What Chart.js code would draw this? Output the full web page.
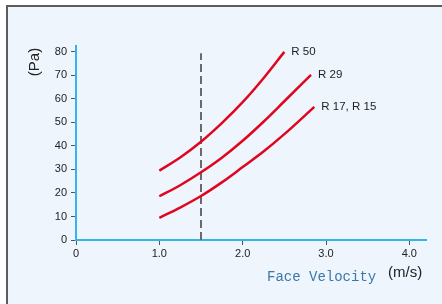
<!DOCTYPE html>
<html>
<head>
<meta charset="utf-8">
<script src="https://cdn.jsdelivr.net/npm/chart.js@4/dist/chart.umd.min.js"></script>
<style>
  html, body { margin: 0; padding: 0; background: #ffffff; }
  #wrap { width: 442px; height: 304px; position: relative; }
</style>
</head>
<body>
<div id="wrap"><canvas id="c" width="442" height="304"></canvas></div>
<script>
// ---- data ----
const seriesNames = ['R 50', 'R 29', 'R 17, R 15'];
const velocityR50 = [1.0, 1.25, 1.5, 1.75, 2.0, 2.25, 2.5];
const pressureR50 = [29.5, 35.1, 41.8, 49.7, 58.6, 68.8, 80.0];
const velocityR29 = [1.0, 1.25, 1.5, 1.75, 2.0, 2.25, 2.5, 2.82];
const pressureR29 = [18.6, 23.3, 28.8, 35.0, 42.2, 50.3, 59.0, 70.2];
const velocityR17 = [1.0, 1.25, 1.5, 1.75, 2.0, 2.25, 2.5, 2.86];
const pressureR17 = [9.4, 13.8, 18.7, 24.5, 31.0, 37.6, 45.0, 56.6];
const designVelocity = [1.5, 1.5];
const designPressure = [0, 79.4];
const xTickValues = [0, 1, 2, 3, 4];
const xTickLabels = ['0', '1.0', '2.0', '3.0', '4.0'];
const yTickValues = [0, 10, 20, 30, 40, 50, 60, 70, 80];
const xAxisTitle = 'Face Velocity';
const xAxisUnit = '(m/s)';
const yAxisTitle = '(Pa)';

const pts = (xs, ys) => xs.map((x, i) => ({ x: x, y: ys[i] }));

const RED = '#e0061f';

const panelPlugin = {
  id: 'panel',
  beforeDraw(chart) {
    const ctx = chart.ctx;
    ctx.save();
    ctx.fillStyle = '#ffffff';
    ctx.fillRect(0, 0, chart.width, chart.height);
    ctx.fillStyle = '#eef5fc';
    ctx.fillRect(7, 6, chart.width - 7, chart.height - 6);
    ctx.strokeStyle = '#5c5c5c';
    ctx.lineWidth = 2;
    ctx.beginPath();
    ctx.moveTo(7, chart.height);
    ctx.lineTo(7, 6);
    ctx.lineTo(chart.width, 6);
    ctx.stroke();
    ctx.restore();
  }
};

const labelsPlugin = {
  id: 'labels',
  afterDatasetsDraw(chart) {
    const ctx = chart.ctx;
    const xs = chart.scales.x, ys = chart.scales.y;
    ctx.save();
    // curve end labels
    ctx.font = '11.5px "Liberation Sans", Arial, sans-serif';
    ctx.fillStyle = '#222222';
    ctx.textAlign = 'left';
    ctx.textBaseline = 'middle';
    [0, 1, 2].forEach(i => {
      const d = chart.data.datasets[i].data;
      const last = d[d.length - 1];
      ctx.fillText(seriesNames[i], xs.getPixelForValue(last.x) + 7, ys.getPixelForValue(last.y));
    });
    // axis titles
    ctx.font = '14px "Liberation Mono", "Courier New", monospace';
    ctx.fillStyle = '#3a78a8';
    ctx.textBaseline = 'alphabetic';
    ctx.fillText(xAxisTitle, 267, 281);
    ctx.font = '15px "Liberation Sans", Arial, sans-serif';
    ctx.fillStyle = '#222222';
    ctx.fillText(xAxisUnit, 388, 277);
    ctx.translate(35, 62);
    ctx.rotate(-Math.PI / 2);
    ctx.textAlign = 'center';
    ctx.textBaseline = 'middle';
    ctx.fillText(yAxisTitle, 0, 0);
    ctx.restore();
  }
};

const lineDs = (name, data) => ({
  label: name,
  data: data,
  showLine: true,
  borderColor: RED,
  borderWidth: 2.5,
  pointRadius: 0,
  cubicInterpolationMode: 'monotone',
  fill: false
});

new Chart(document.getElementById('c'), {
  type: 'scatter',
  data: {
    datasets: [
      lineDs(seriesNames[0], pts(velocityR50, pressureR50)),
      lineDs(seriesNames[1], pts(velocityR29, pressureR29)),
      lineDs(seriesNames[2], pts(velocityR17, pressureR17)),
      {
        label: 'design',
        data: pts(designVelocity, designPressure),
        showLine: true,
        borderColor: '#6a6a6a',
        borderWidth: 2,
        borderDash: [8, 4],
        pointRadius: 0,
        fill: false
      }
    ]
  },
  options: {
    responsive: false,
    animation: false,
    devicePixelRatio: 1,
    layout: { padding: { left: 0, top: 46, right: 16, bottom: 0 } },
    plugins: { legend: { display: false }, tooltip: { enabled: false } },
    scales: {
      x: {
        type: 'linear',
        min: 0,
        max: 4.2,
        afterFit: s => { s.height = 64; },
        afterBuildTicks: s => { s.ticks = xTickValues.map(v => ({ value: v })); },
        ticks: {
          includeBounds: false,
          autoSkip: false,
          maxRotation: 0,
          padding: 2,
          color: '#222222',
          font: { family: '"Liberation Sans", Arial, sans-serif', size: 11 },
          callback: (v) => xTickLabels[xTickValues.indexOf(v)]
        },
        grid: { drawOnChartArea: false, drawTicks: true, tickLength: 5, color: '#555555', lineWidth: 1 },
        border: { display: true, color: '#35b4ec', width: 2 }
      },
      y: {
        type: 'linear',
        min: 0,
        max: 82.5,
        afterFit: s => { s.width = 76; },
        afterBuildTicks: s => { s.ticks = yTickValues.map(v => ({ value: v })); },
        ticks: {
          includeBounds: false,
          autoSkip: false,
          padding: 4,
          color: '#222222',
          font: { family: '"Liberation Sans", Arial, sans-serif', size: 11 }
        },
        grid: { drawOnChartArea: false, drawTicks: true, tickLength: 5, color: '#555555', lineWidth: 1 },
        border: { display: true, color: '#35b4ec', width: 2 }
      }
    }
  },
  plugins: [panelPlugin, labelsPlugin]
});
</script>
</body>
</html>
